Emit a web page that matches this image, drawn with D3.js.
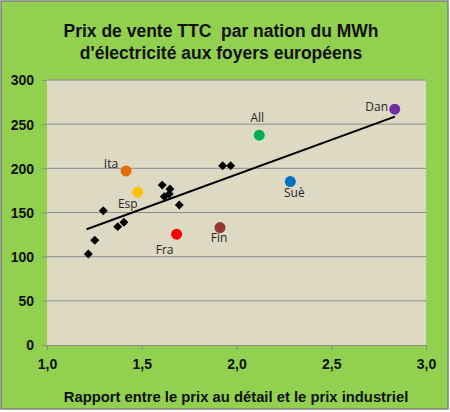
<!DOCTYPE html>
<html>
<head>
<meta charset="utf-8">
<script src="https://cdn.jsdelivr.net/npm/d3@7"></script>
<style>
  body { margin: 0; background: #fff; }
  svg { display: block; }
</style>
</head>
<body>
<div id="chart"></div>
<script>
// data
const titleLines = ["Prix de vente TTC  par nation du MWh", "d'électricité aux foyers européens"];
const xTicks = [1.0, 1.5, 2.0, 2.5, 3.0];
const yTicks = [0, 50, 100, 150, 200, 250, 300];

// other countries (black diamonds)
const otherX = [1.297, 1.373, 1.406, 1.252, 1.218, 1.608, 1.649, 1.645, 1.619, 1.698, 1.927, 1.969];
const otherY = [152, 134, 139, 118.5, 103, 181, 176.5, 171, 168, 158.5, 203, 203];

// named countries
const names = ["Ita", "Esp", "Fra", "Fin", "All", "Suè", "Dan"];
const namedX = [1.417, 1.479, 1.684, 1.913, 2.120, 2.284, 2.835];
const namedY = [197, 173, 125.5, 133, 237.5, 185, 267];
const namedColors = ["#E36C0A", "#FFC000", "#FF0000", "#953735", "#00B050", "#0070C0", "#7030A0"];

// trend line endpoints
const trendX = [1.209, 2.836];
const trendY = [131, 258.5];

const W = 450, H = 412;
const margin = {top: 80, right: 24, bottom: 67, left: 47},
width = W - margin.left - margin.right,
height = H - margin.top - margin.bottom;

// label offsets relative to the marker
const labelDx = [-15, -10, -12, -1, -2, 4, -18];
const labelDy = [-7, 12, 16, 10, -17, 11, -2];

const svg = d3.select("#chart").append("svg")
    .attr("width", W)
    .attr("height", H);

svg.append("rect")
    .attr("x", 1).attr("y", 1)
    .attr("width", W - 3).attr("height", H - 4)
    .attr("fill", "#92D050")
    .attr("stroke", "#808080")
    .attr("stroke-width", 1.5);

svg.selectAll("text.title")
    .data(titleLines)
    .join("text")
    .attr("class", "title")
    .attr("x", 221)
    .attr("y", (d, i) => 37 + i * 22)
    .attr("text-anchor", "middle")
    .style("white-space", "pre")
    .style("font-family", "Liberation Sans, Arial, sans-serif")
    .style("font-weight", "bold")
    .style("font-size", "17.5px")
    .attr("fill", "#111")
    .text(d => d);

const g = svg.append("g")
    .attr("transform", `translate(${margin.left},${margin.top})`);

const x = d3.scaleLinear().domain([1, 3]).range([0, width]);
const y = d3.scaleLinear().domain([0, 300]).range([height, 0]);

g.append("rect")
    .attr("width", width)
    .attr("height", height)
    .attr("fill", "#DDD9C3");

// gridlines
g.append("g")
    .selectAll("line")
    .data(yTicks.filter(d => d > 0))
    .join("line")
    .attr("x1", 0).attr("x2", width)
    .attr("y1", d => y(d)).attr("y2", d => y(d))
    .attr("stroke", "#8C8C8C")
    .attr("stroke-width", 1);

// axes
const xAxis = g.append("g")
    .attr("transform", `translate(0,${height})`)
    .call(d3.axisBottom(x).tickValues(xTicks).tickSize(5).tickPadding(9)
        .tickFormat(d => d3.format(".1f")(d).replace(".", ",")));
const yAxis = g.append("g")
    .call(d3.axisLeft(y).tickValues(yTicks).tickSize(5).tickPadding(8));

[xAxis, yAxis].forEach(a => {
    a.select(".domain").attr("stroke", "#8C8C8C");
    a.selectAll(".tick line").attr("stroke", "#8C8C8C");
    a.selectAll("text")
        .style("font-family", "Liberation Sans, Arial, sans-serif")
        .style("font-weight", "bold")
        .style("font-size", "14px")
        .attr("fill", "#111");
});
yAxis.select(".domain").remove();
yAxis.selectAll("text").attr("dy", "0.35em");

svg.append("text")
    .attr("x", 236)
    .attr("y", 402)
    .attr("text-anchor", "middle")
    .style("font-family", "Liberation Sans, Arial, sans-serif")
    .style("font-weight", "bold")
    .style("font-size", "14.8px")
    .attr("fill", "#111")
    .text("Rapport entre le prix au détail et le prix industriel");

// trend line
const trend = trendX.map((v, i) => ({x: v, y: trendY[i]}));
g.append("path")
    .datum(trend)
    .attr("fill", "none")
    .attr("stroke", "#000")
    .attr("stroke-width", 2)
    .attr("d", d3.line().x(d => x(d.x)).y(d => y(d.y)));

// diamonds
const others = otherX.map((v, i) => ({x: v, y: otherY[i]}));
g.selectAll("path.dia")
    .data(others)
    .join("path")
    .attr("class", "dia")
    .attr("transform", d => `translate(${x(d.x)},${y(d.y)}) rotate(45)`)
    .attr("d", d3.symbol(d3.symbolSquare, 40))
    .attr("fill", "#000");

// named countries
const named = names.map((n, i) => ({name: n, x: namedX[i], y: namedY[i], c: namedColors[i], dx: labelDx[i], dy: labelDy[i]}));
g.selectAll("circle.pt")
    .data(named)
    .join("circle")
    .attr("class", "pt")
    .attr("cx", d => x(d.x))
    .attr("cy", d => y(d.y))
    .attr("r", 5.5)
    .attr("fill", d => d.c);

g.selectAll("text.lab")
    .data(named)
    .join("text")
    .attr("class", "lab")
    .attr("x", d => x(d.x) + d.dx)
    .attr("y", d => y(d.y) + d.dy)
    .attr("dy", "0.35em")
    .attr("text-anchor", "middle")
    .style("font-family", "Open Sans, Noto Sans, sans-serif")
    .style("font-size", "12px")
    .attr("fill", "#262626")
    .text(d => d.name);
</script>
</body>
</html>
